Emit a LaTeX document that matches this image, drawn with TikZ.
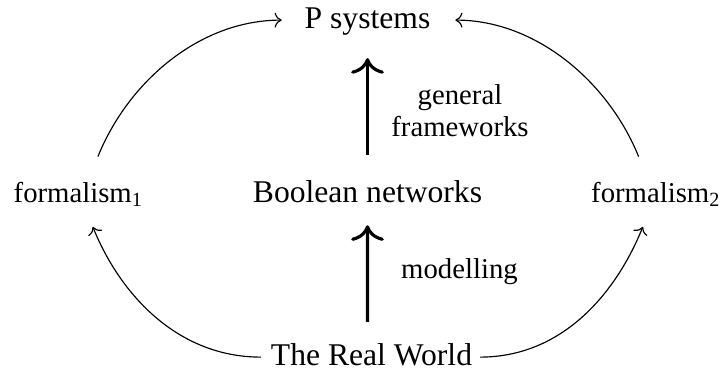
\documentclass[tikz,border=0pt]{standalone}
\usepackage{fontspec}
\setmainfont{Liberation Serif}
\usetikzlibrary{arrows.meta}
\begin{document}
\begin{tikzpicture}[x=0.348pt,y=0.348pt,
  lbl/.style={inner sep=0pt, outer sep=0pt, text height=8pt, text depth=2.5pt, anchor=base, font=\fontsize{11}{13}\selectfont},
  flbl/.style={lbl, font=\fontsize{10}{12}\selectfont},
  sublbl/.style={inner sep=0pt, outer sep=0pt, align=center, font=\fontsize{10}{11.1}\selectfont},
  thin arrow/.style={-{To}, line width=0.4pt},
  thick arrow/.style={-{To[scale=1.35]}, line width=1.1pt}]
\useasboundingbox (0,0) rectangle (722,375);
\node[lbl] (P) at (367.5,347) {P systems};
\node[lbl] (B) at (367.5,173) {Boolean networks};
\node[lbl] (R) at (371.5,10) {The Real World};
\node[flbl] (f1) at (78.5,173) {formalism\textsubscript{1}};
\node[flbl] (f2) at (656,173) {formalism\textsubscript{2}};
\node[sublbl] (gf) at (460,264) {general\\frameworks};
\node[sublbl, anchor=base] (mo) at (459.5,97) {modelling};
% vertical thick arrows
\draw[thick arrow, shorten <=8.4pt, shorten >=8pt] (B.north) -- (P.south);
\draw[thick arrow, shorten <=7pt, shorten >=5.6pt] ([xshift=-1.4pt]R.north) -- (B.south);
% curved thin arrows
\draw[thin arrow, shorten <=8.4pt, shorten >=8pt] ([xshift=3.6pt]f1.north) to[out=68, in=180] (P.west);
\draw[thin arrow, shorten <=8.4pt, shorten >=8.7pt] ([xshift=-2.9pt]f2.north) to[out=112, in=0] (P.east);
\draw[thin arrow, shorten <=3.5pt, shorten >=6.6pt] (R.west) to[out=180, in=-68] ([xshift=2.5pt]f1.south);
\draw[thin arrow, shorten <=2.8pt, shorten >=6.6pt] (R.east) to[out=0, in=-112] ([xshift=-2.1pt]f2.south);
\end{tikzpicture}
\end{document}
